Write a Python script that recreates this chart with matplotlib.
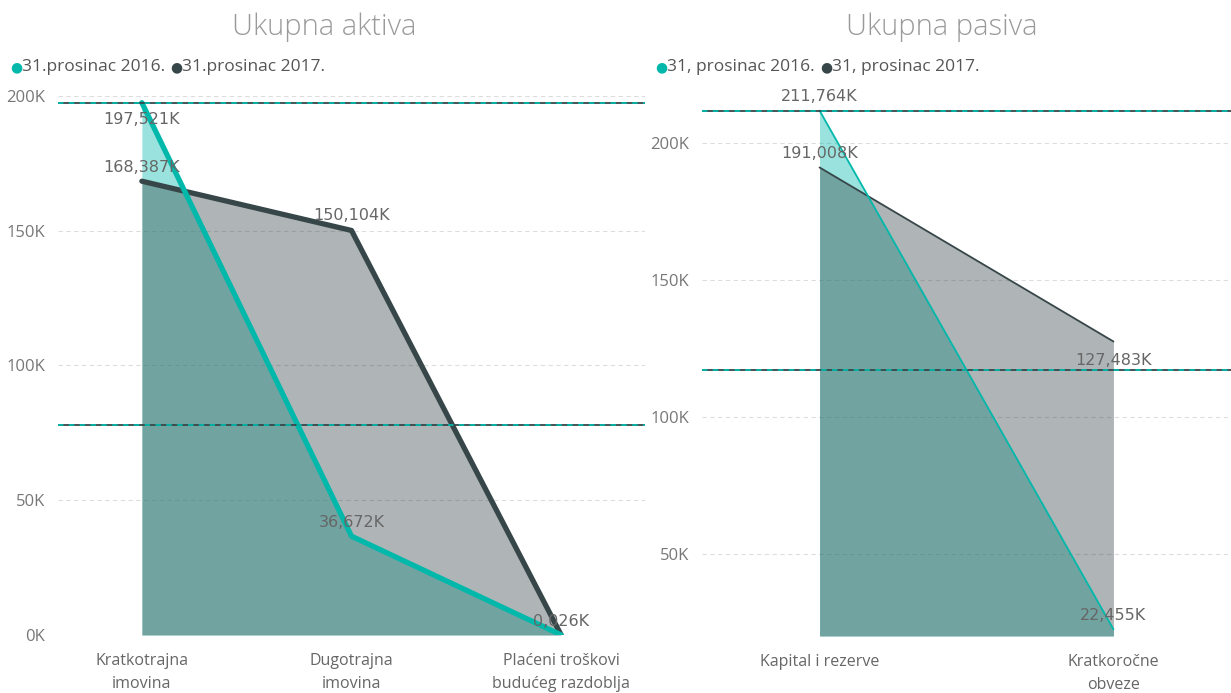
import matplotlib
matplotlib.use("Agg")
import matplotlib.pyplot as plt
import numpy as np

plt.rcParams['font.family'] = ['Open Sans', 'DejaVu Sans']

# ---- data ----
aktiva_categories = ["Kratkotrajna\nimovina", "Dugotrajna\nimovina", "Plaćeni troškovi\nbudućeg razdoblja"]
aktiva_2016 = [197521, 36672, 26]
aktiva_2017 = [168387, 150104, 0]
aktiva_labels_2016 = ["197,521K", "36,672K", "0,026K"]
aktiva_labels_2017 = ["168,387K", "150,104K", ""]
aktiva_legend = ["31.prosinac 2016.", "31.prosinac 2017."]
aktiva_yticks = [0, 50000, 100000, 150000, 200000]
aktiva_yticklabels = ["0K", "50K", "100K", "150K", "200K"]

pasiva_categories = ["Kapital i rezerve", "Kratkoročne\nobveze"]
pasiva_2016 = [211764, 22455]
pasiva_2017 = [191008, 127483]
pasiva_labels_2016 = ["211,764K", "22,455K"]
pasiva_labels_2017 = ["191,008K", "127,483K"]
pasiva_legend = ["31, prosinac 2016.", "31, prosinac 2017."]
pasiva_yticks = [50000, 100000, 150000, 200000]
pasiva_yticklabels = ["50K", "100K", "150K", "200K"]

TEAL = "#01B8AA"
DARK = "#374649"
TICK = "#777777"
LBL = "#666666"

W, H = 1231, 693
fig = plt.figure(figsize=(W / 100, H / 100), dpi=100)


def px_axes(x0, x1, y0, y1):
    return fig.add_axes([x0 / W, 1 - y1 / H, (x1 - x0) / W, (y1 - y0) / H])


def draw(ax, cats, s16, s17, l16, l17, ylim, yticks, yticklabels, lw,
         off16, off17, title, legend, title_x, leg_x):
    x = np.arange(len(cats))
    base = ylim[0]
    ax.fill_between(x, base, s16, color=TEAL, alpha=0.4, lw=0, zorder=2)
    ax.fill_between(x, base, s17, color=DARK, alpha=0.4, lw=0, zorder=3)
    ax.plot(x, s17, color=DARK, lw=lw, zorder=5, solid_capstyle='round', solid_joinstyle='round')
    ax.plot(x, s16, color=TEAL, lw=lw, zorder=6, solid_capstyle='round', solid_joinstyle='round')
    # reference lines: max and average of first series
    for v in (max(s16), float(np.mean(s16))):
        ax.axhline(v, color=DARK, lw=1.3, zorder=7)
        ax.axhline(v, color=TEAL, lw=1.3, ls=(0, (3, 3)), zorder=8)
    for xi, v, t, o in zip(x, s16, l16, off16):
        if t:
            ax.annotate(t, (xi, v), xytext=(0, o), textcoords='offset points',
                        ha='center', va='center', fontsize=11.5, color=LBL, zorder=10,
                        family=['DejaVu Sans Condensed', 'DejaVu Sans'])
    for xi, v, t, o in zip(x, s17, l17, off17):
        if t:
            ax.annotate(t, (xi, v), xytext=(0, o), textcoords='offset points',
                        ha='center', va='center', fontsize=11.5, color=LBL, zorder=10,
                        family=['DejaVu Sans Condensed', 'DejaVu Sans'])
    ax.set_xlim(-0.4, len(cats) - 0.6)
    ax.set_ylim(*ylim)
    ax.set_yticks(yticks)
    ax.set_yticklabels(yticklabels)
    ax.set_xticks(x)
    ax.set_xticklabels(cats, linespacing=1.55)
    ax.tick_params(axis='both', length=0, colors=TICK, labelsize=12)
    ax.tick_params(axis='x', pad=13, labelcolor=LBL, labelsize=11.5)
    ax.tick_params(axis='y', pad=9)
    ax.grid(axis='y', color='#dddddd', ls=(0, (4, 3)), lw=0.8, zorder=0)
    for s in ax.spines.values():
        s.set_visible(False)
    fig.text(title_x / W, 1 - 27 / H, title, ha='center', va='center',
             fontsize=21, color='#9a9a9a', fontweight='light')
    # legend
    lx0, lx1 = leg_x
    for lx, col, txt in ((lx0, TEAL, legend[0]), (lx1, DARK, legend[1])):
        fig.text(lx / W, 1 - 67 / H, "●", color=col, fontsize=10, ha='center', va='center',
                 family=['DejaVu Sans'])
        fig.text((lx + 6) / W, 1 - 67 / H, txt, color='#555555', fontsize=12.5,
                 ha='left', va='center')


ax1 = px_axes(58, 645, 96, 635)
draw(ax1, aktiva_categories, aktiva_2016, aktiva_2017, aktiva_labels_2016, aktiva_labels_2017,
     (0, 200000), aktiva_yticks, aktiva_yticklabels, 3.8,
     [-12, 10, 10], [10, 11, 0], "Ukupna aktiva", aktiva_legend, 324, (16, 176))

ax2 = px_axes(702, 1231, 88, 636)
draw(ax2, pasiva_categories, pasiva_2016, pasiva_2017, pasiva_labels_2016, pasiva_labels_2017,
     (20000, 220000), pasiva_yticks, pasiva_yticklabels, 1.3,
     [10, 10], [10, -14], "Ukupna pasiva", pasiva_legend, 942, (661, 826))

fig.savefig("out.png", dpi=100)
